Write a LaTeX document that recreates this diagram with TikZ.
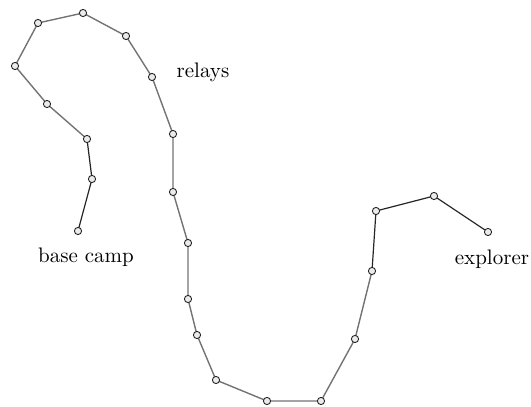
\documentclass[tikz,border=0pt]{standalone}
\begin{document}
\begin{tikzpicture}[x=0.5pt,y=-0.5pt,
  relay/.style={circle,draw=black!85,fill=black!8,line width=0.45pt,minimum size=3.6pt,inner sep=0pt},
  lbl/.style={font=\fontsize{10.5}{12}\selectfont,inner sep=0pt},
  darkseg/.style={draw=black!85,line width=0.6pt},
  lightseg/.style={draw=black!55,line width=0.7pt}]
\useasboundingbox (0,0) rectangle (531,407);
\foreach \n/\x/\y in {n1/78/231,n2/92/179,n3/87/139,n4/47/104,n5/15/66,n6/38/23,n7/83/13,n8/126/36,n9/152/77,n10/173/134,n11/173/192,n12/188/243,n13/188/299,n14/197/335,n15/216/380,n16/267/401,n17/321/401,n18/355/339,n19/372/271,n20/376/211,n21/434/196,n22/488/232}
  \coordinate (\n) at (\x,\y);
\draw[darkseg] (n1) -- (n2) -- (n3);
\draw[lightseg] (n3) -- (n4) -- (n5) -- (n6) -- (n7) -- (n8) -- (n9) -- (n10) -- (n11) -- (n12) -- (n13) -- (n14) -- (n15) -- (n16) -- (n17) -- (n18) -- (n19);
\draw[darkseg] (n19) -- (n20) -- (n21) -- (n22);
\foreach \n in {n1,n2,n3,n4,n5,n6,n7,n8,n9,n10,n11,n12,n13,n14,n15,n16,n17,n18,n19,n20,n21,n22}
  \node[relay] (c\n) at (\n) {};
\node[lbl] (base) at (86,257) {base camp};
\node[lbl] (relays) at (203,72) {relays};
\node[lbl] (explorer) at (492,259) {explorer};
\end{tikzpicture}
\end{document}
